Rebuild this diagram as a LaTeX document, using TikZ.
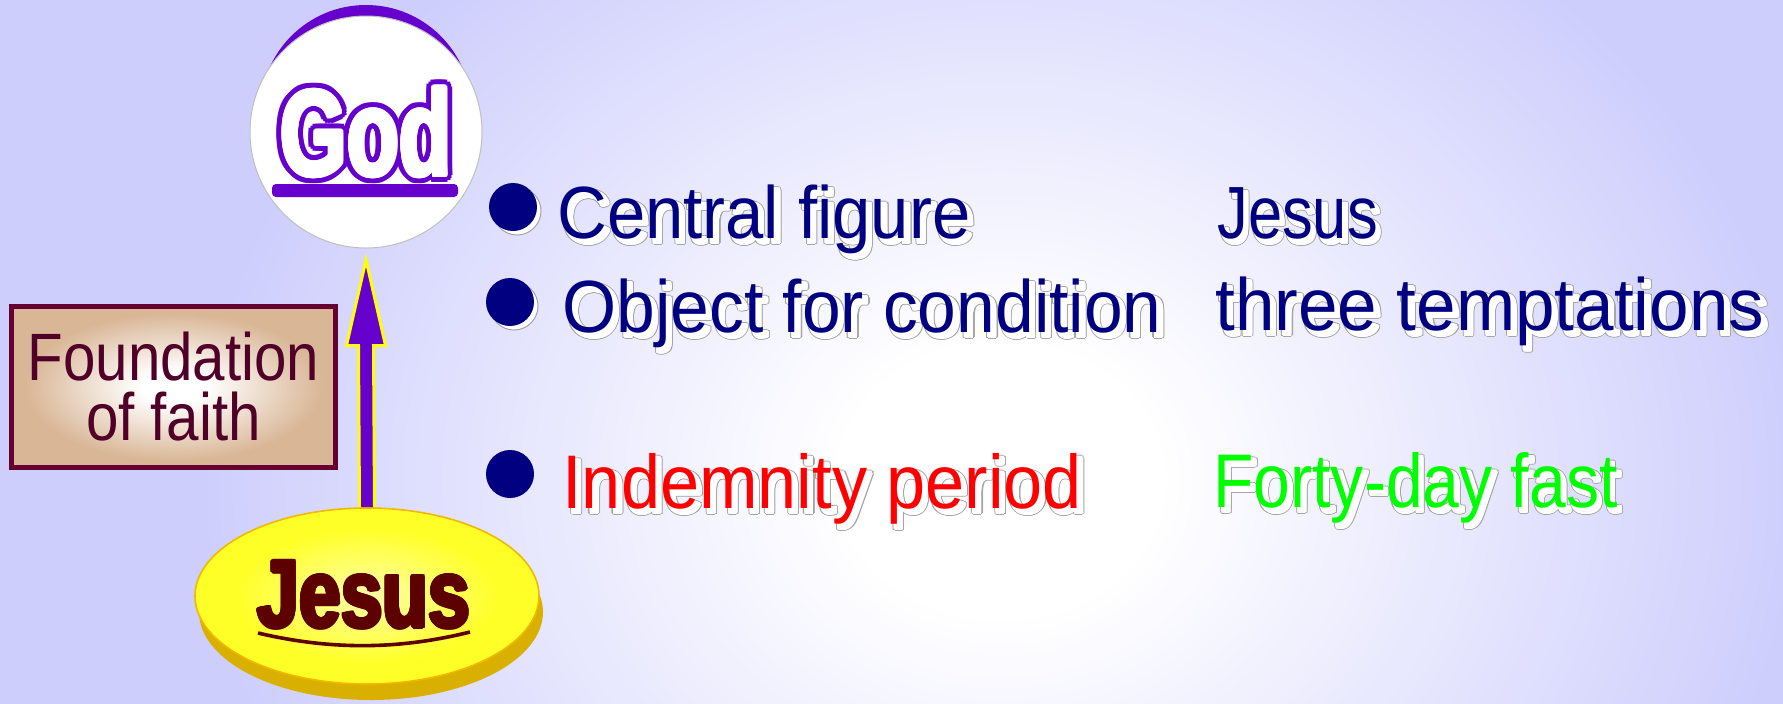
\documentclass[tikz,border=0pt]{standalone}
\usepackage{fontspec}
\setmainfont{Liberation Sans}
\newfontfamily\godfont[FakeStretch=0.70]{Liberation Sans}
\newfontfamily\jesfont[FakeStretch=0.78]{Liberation Sans}
\newfontfamily\foundfont[FakeStretch=0.87]{Liberation Sans}
\usetikzlibrary{shapes.geometric,calc}

\definecolor{lav}{RGB}{206,206,253}
\definecolor{godpurple}{RGB}{102,0,204}
\definecolor{arrowyellow}{RGB}{255,255,0}
\definecolor{navyc}{RGB}{0,0,128}
\definecolor{shgrey}{RGB}{165,165,165}
\definecolor{redc}{RGB}{255,0,0}
\definecolor{greenc}{RGB}{0,255,0}
\definecolor{jescol}{RGB}{92,0,0}
\definecolor{jpale}{RGB}{255,255,170}
\definecolor{jyel}{RGB}{255,255,40}
\definecolor{rimgold}{RGB}{218,176,0}
\definecolor{goldedge}{RGB}{240,185,0}
\definecolor{tanc}{RGB}{217,182,150}
\definecolor{boxborder}{RGB}{102,0,51}
\definecolor{foundtext}{RGB}{80,0,40}

\pgfdeclareradialshading{bgshade}{\pgfpoint{0bp}{0bp}}{color(0bp)=(white); color(4bp)=(white); color(20bp)=(lav); color(50bp)=(lav)}
\pgfdeclareradialshading{jesshade}{\pgfpoint{0bp}{0bp}}{color(0bp)=(jpale); color(19bp)=(jyel); color(50bp)=(jyel)}
\pgfdeclareradialshading{foundshade}{\pgfpoint{0bp}{0bp}}{color(0bp)=(white); color(5bp)=(white); color(23bp)=(tanc); color(50bp)=(tanc)}

\newcommand\cpy[3]{\rlap{\hspace*{#1}\raisebox{#2}{#3}}}
\newcommand\ring[5]{\foreach \rang in {0,22.5,...,337.5}{\pgfmathsetmacro\rdx{#1+#3*cos(\rang)}\pgfmathsetmacro\rdy{#2+#3*sin(\rang)}\cpy{\rdx pt}{\rdy pt}{\color{#4}#5}}}
\newcommand\shadowed[2]{\ring{2.5}{-2.5}{1.4}{shgrey}{#2}\ring{2.5}{-2.5}{0.8}{white}{#2}\cpy{2.5pt}{-2.5pt}{\color{white}#2}\textcolor{#1}{#2}}

\tikzset{
  linetext/.style={anchor=base west, inner sep=0, font=\fontsize{37}{40}\selectfont},
  linetextb/.style={anchor=base west, inner sep=0, font=\fontsize{38}{40}\selectfont},
  bullet/.style={circle, fill=navyc, minimum size=24pt, inner sep=0},
  bulletshadow/.style={fill=white, draw=shgrey, line width=0.5pt},
}

\begin{document}
\begin{tikzpicture}[x=0.5pt,y=-0.5pt]
\useasboundingbox (0,0) rectangle (1783,703);
% background
\fill[lav] (0,0) rectangle (1783,703);
\begin{scope}
\clip (0,0) rectangle (1783,703);
\shade[shading=bgshade] (0,-370) rectangle (2000,1330);
\end{scope}

% God
\fill[godpurple] (366,110.5) circle[radius=52.75pt];
\node[circle, fill=white, draw=gray!50, line width=0.5pt, minimum size=116pt, inner sep=0] (god) at (366,132) {};
\node[inner sep=0, font=\godfont\bfseries\fontsize{61}{61}\selectfont] (godtext) at (366,132)
  {\ring{0}{0}{3.6}{godpurple}{God}\ring{0}{0}{2.2}{godpurple}{God}\ring{0}{0}{1.0}{white}{God}\textcolor{white}{God}};
\fill[godpurple, rounded corners=2pt] (272,184) rectangle (458,197);

% Jesus
\fill[rimgold] (371,612) ellipse[x radius=86pt, y radius=44pt];
\node[ellipse, minimum width=172pt, minimum height=88pt, inner sep=0, draw=goldedge, line width=0.8pt, shading=jesshade] (jesus) at (367,596) {};
\node[inner sep=0, anchor=base, font=\jesfont\bfseries\fontsize{48}{48}\selectfont] (jestext) at (364,627)
  {\ring{0}{0}{1.0}{jescol}{Jesus}\ring{0}{0}{0.5}{jescol}{Jesus}\textcolor{jescol}{Jesus}};
\draw[jescol, line width=1.8pt] (258,633) .. controls (330,650) and (398,650) .. (470,632);

% arrow Jesus -> God
\coordinate (tip) at ($(god.south)+(0,11.5)$);
\filldraw[fill=godpurple, draw=arrowyellow, line width=1.5pt, line join=miter]
  ($(jesus.north)+(-7.5,0)$) -- ($(tip)+(-7.5,85.5)$) -- ($(tip)+(-19.5,85.5)$) -- (tip)
  -- ($(tip)+(19.5,85.5)$) -- ($(tip)+(7.5,85.5)$) -- ($(jesus.north)+(7.5,0)$);

% Foundation of faith
\node[draw=boxborder, line width=2.5pt, minimum width=162pt, minimum height=80.5pt, inner sep=0,
      shading=foundshade, align=center, text=foundtext,
      font=\foundfont\fontsize{33.5}{30}\selectfont] (found) at (173.5,387) {Foundation\\of faith};

% bullets
\fill[bulletshadow] (517,211) circle[radius=12pt];
\node[bullet] (b1) at (513,207) {};
\fill[bulletshadow] (514,306) circle[radius=12pt];
\node[bullet] (b2) at (510,302) {};
\node[bullet] (b3) at (510,474) {};

% texts
\node[linetext] (cf) at (557,238) {\scalebox{0.93}[1]{\shadowed{navyc}{Central figure}}};
\node[linetext] (je) at (1217,238) {\scalebox{0.83}[1]{\shadowed{navyc}{Jesus}}};
\node[linetext] (oc) at (562,332) {\scalebox{0.94}[1]{\shadowed{navyc}{Object for condition}}};
\node[linetext] (tt) at (1215,330) {\scalebox{0.96}[1]{\shadowed{navyc}{three temptations}}};
\node[linetextb] (ip) at (562,508) {\scalebox{0.925}[1]{\shadowed{redc}{Indemnity period}}};
\node[linetextb] (fd) at (1213,507) {\scalebox{0.87}[1]{\shadowed{greenc}{Forty-day fast}}};
\end{tikzpicture}
\end{document}
